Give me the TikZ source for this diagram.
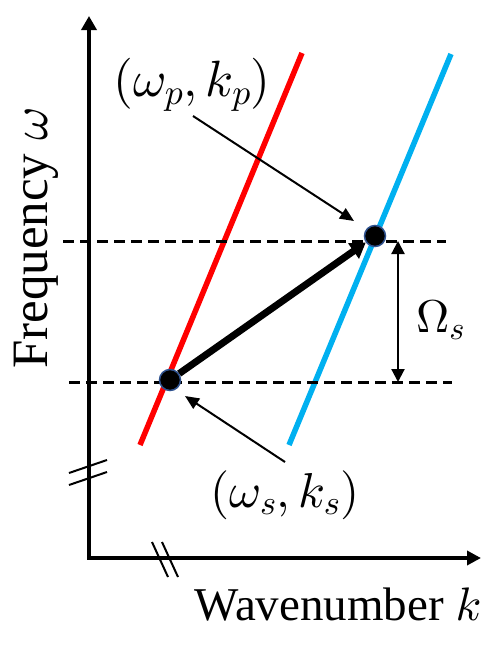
\documentclass[tikz,border=0pt]{standalone}
\DeclareFontShape{OML}{cmm}{m}{it}{<->cmmi10}{}
\DeclareFontShape{OMS}{cmsy}{m}{n}{<->cmsy10}{}
\DeclareFontShape{OMX}{cmex}{m}{n}{<->cmex10}{}
\DeclareFontShape{OT1}{cmr}{m}{n}{<->cmr10}{}
\usepackage{fontspec}
\setmainfont{Liberation Serif}
\usetikzlibrary{arrows.meta}
\definecolor{pred}{RGB}{255,0,0}
\definecolor{pblue}{RGB}{0,176,240}
\definecolor{dotedge}{RGB}{47,82,143}
\begin{document}
\begin{tikzpicture}[x=1pt,y=-1pt,
  axisline/.style={line width=4.5pt, line join=miter},
  brk/.style={line width=2pt},
  disp/.style={line width=5.5pt},
  hline/.style={line width=3pt, dash pattern=on 11pt off 6pt},
  dotnode/.style={circle, fill=black, draw=dotedge, line width=1.5pt, minimum size=21pt, inner sep=0pt},
  pointer/.style={line width=2pt, -{Triangle[length=14pt,width=12pt]}},
  bigarrow/.style={line width=7pt, -{Triangle[length=15pt,width=18pt]}},
  gap/.style={line width=2.2pt, {Triangle[length=13pt,width=13pt]}-{Triangle[length=13pt,width=13pt]}},
  xlab/.style={inner sep=0pt, font=\fontsize{47}{56}\selectfont},
  ylab/.style={inner sep=0pt, font=\fontsize{51}{61}\selectfont},
  mlab/.style={inner sep=0pt, font=\fontsize{46}{55}\selectfont},
  plab/.style={inner sep=0pt, font=\fontsize{51}{61}\selectfont},
  slab/.style={inner sep=0pt, font=\fontsize{49}{59}\selectfont}
]
\useasboundingbox (0,0) rectangle (498,656);

% axes
\coordinate (yTop) at (89,16);
\coordinate (origin) at (89,558);
\coordinate (xEnd) at (481,558);
\draw[axisline, {Triangle[length=14pt,width=15pt]}-{Triangle[length=14pt,width=14pt]}] (yTop) -- (origin) -- (xEnd);

% axis breaks
\draw[brk] (69,473) -- (107,460);
\draw[brk] (69,485) -- (107,472);
\draw[brk] (152,542) -- (168,577);
\draw[brk] (162,542) -- (178,577);

% dispersion lines
\draw[disp, pred] (302,53) -- (140,445);
\draw[disp, pblue] (451,54) -- (289,445);

% dashed levels
\coordinate (hpL) at (63,241);
\coordinate (hpR) at (446,241);
\coordinate (hsL) at (69,382);
\coordinate (hsR) at (452,382);
\draw[hline] (hpL) -- (hpR);
\draw[hline] (hsL) -- (hsR);

% Omega_s gap arrow
\coordinate (gTop) at (398,241);
\coordinate (gBot) at (398,382);
\draw[gap] (gTop) -- (gBot);
\node[mlab, anchor=west] (Om) at (416,320) {$\Omega_s$};

% points
\node[dotnode] (S) at (170,380) {};
\node[dotnode] (P) at (375,236) {};
\draw[bigarrow] (S) -- (P);

% labels
\node[plab] (Lp) at (192,85) {$\bigl(\omega_p, k_p\bigr)$};
\node[slab] (Ls) at (285,495) {$(\omega_s, k_s)$};
\coordinate (pStart) at (193,116);
\coordinate (pEnd) at (354,221);
\coordinate (sStart) at (285,462);
\coordinate (sEnd) at (185,396);
\draw[pointer] (pStart) -- (pEnd);
\draw[pointer] (sStart) -- (sEnd);

% axis titles
\node[xlab, anchor=base] (xt) at (338,620) {Wavenumber $k$};
\node[ylab, anchor=base, rotate=90] (yt) at (47,238) {Frequency $\omega$};
\end{tikzpicture}
\end{document}
